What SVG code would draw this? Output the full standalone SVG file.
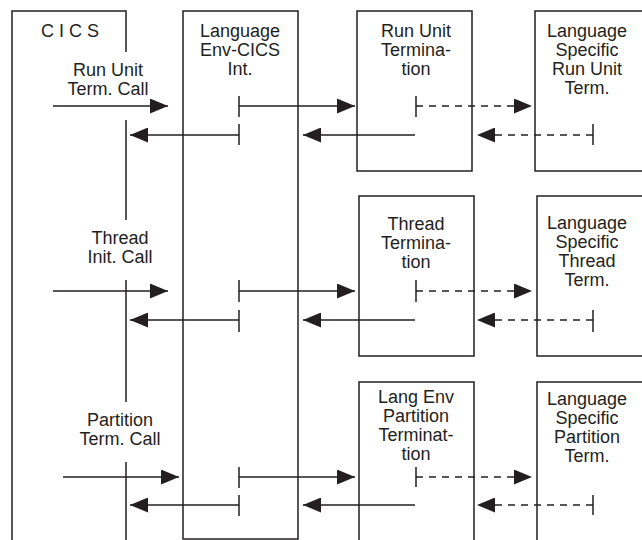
<svg xmlns="http://www.w3.org/2000/svg" width="642" height="540" viewBox="0 0 642 540">
  <style>
    .box { fill: none; stroke: #231f20; stroke-width: 1.5; }
    .ln { fill: none; stroke: #231f20; stroke-width: 1.5; }
    .dash { fill: none; stroke: #231f20; stroke-width: 1.5; stroke-dasharray: 7 6; }
    text { font-family: "Liberation Sans", Arial, Helvetica, sans-serif; font-size: 18px; fill: #231f20; text-anchor: middle; }
  </style>
  <defs>
    <marker id="arrow" markerUnits="userSpaceOnUse" markerWidth="18" markerHeight="15" refX="18" refY="7.5" orient="auto">
      <path d="M0,0 L18,7.5 L0,15 Z" fill="#231f20" stroke="none"/>
    </marker>
  </defs>
  <rect width="642" height="540" fill="#ffffff"/>

  <!-- CICS region: open-bottom frame with a broken right side -->
  <g id="cics">
    <path class="ln" d="M12,540 V11 H126 V52"/>
    <path class="ln" d="M126,120 V220 M126,280 V402 M126,462 V540"/>
    <text x="41" y="37" style="text-anchor:start">C I C S</text>
  </g>

  <g id="lang-env-cics">
    <rect class="box" x="183" y="11" width="115" height="528"/>
    <text x="240" y="37">Language</text>
    <text x="240" y="56">Env-CICS</text>
    <text x="240" y="75">Int.</text>
  </g>

  <g id="run-unit-term">
    <rect class="box" x="357" y="11" width="115" height="160"/>
    <text x="416" y="37">Run Unit</text>
    <text x="416" y="56">Termina-</text>
    <text x="416" y="75">tion</text>
  </g>

  <g id="lang-specific-run-unit">
    <path class="ln" d="M650,11 H535 V171 H650"/>
    <text x="587" y="37">Language</text>
    <text x="587" y="56">Specific</text>
    <text x="587" y="75">Run Unit</text>
    <text x="587" y="94">Term.</text>
  </g>

  <g id="thread-term">
    <rect class="box" x="359" y="196" width="115" height="160"/>
    <text x="416" y="230">Thread</text>
    <text x="416" y="249">Termina-</text>
    <text x="416" y="268">tion</text>
  </g>

  <g id="lang-specific-thread">
    <path class="ln" d="M650,196 H537 V356 H650"/>
    <text x="587" y="229">Language</text>
    <text x="587" y="248">Specific</text>
    <text x="587" y="267">Thread</text>
    <text x="587" y="286">Term.</text>
  </g>

  <g id="partition-term">
    <path class="ln" d="M359,545 V382 H474 V545"/>
    <text x="416" y="403">Lang Env</text>
    <text x="416" y="422">Partition</text>
    <text x="416" y="441">Terminat-</text>
    <text x="416" y="460">tion</text>
  </g>

  <g id="lang-specific-partition">
    <path class="ln" d="M650,382 H537 V545"/>
    <text x="587" y="405">Language</text>
    <text x="587" y="424">Specific</text>
    <text x="587" y="443">Partition</text>
    <text x="587" y="462">Term.</text>
  </g>

  <!-- call labels -->
  <g id="labels">
    <text x="108" y="76">Run Unit</text>
    <text x="108" y="95">Term. Call</text>
    <text x="120" y="244">Thread</text>
    <text x="120" y="263">Init. Call</text>
    <text x="120" y="426">Partition</text>
    <text x="120" y="445">Term. Call</text>
  </g>

  <g id="connectors">
    <!-- run unit termination -->
    <line class="ln" x1="53" y1="106" x2="168" y2="106" marker-end="url(#arrow)"/>
    <path class="ln" d="M239,96 V117"/>
    <line class="ln" x1="239" y1="106" x2="355" y2="106" marker-end="url(#arrow)"/>
    <path class="ln" d="M239,124 V145"/>
    <line class="ln" x1="239" y1="135" x2="130" y2="135" marker-end="url(#arrow)"/>
    <line class="ln" x1="415" y1="135" x2="303" y2="135" marker-end="url(#arrow)"/>
    <path class="ln" d="M416,96 V117"/>
    <line class="dash" x1="416" y1="106" x2="532" y2="106" marker-end="url(#arrow)"/>
    <path class="ln" d="M593,124 V145"/>
    <line class="dash" x1="593" y1="135" x2="477" y2="135" marker-end="url(#arrow)"/>

    <!-- thread -->
    <line class="ln" x1="53" y1="291" x2="168" y2="291" marker-end="url(#arrow)"/>
    <path class="ln" d="M239,280 V302"/>
    <line class="ln" x1="239" y1="291" x2="355" y2="291" marker-end="url(#arrow)"/>
    <path class="ln" d="M239,310 V332"/>
    <line class="ln" x1="239" y1="320" x2="130" y2="320" marker-end="url(#arrow)"/>
    <line class="ln" x1="415" y1="320" x2="303" y2="320" marker-end="url(#arrow)"/>
    <path class="ln" d="M416,280 V302"/>
    <line class="dash" x1="416" y1="291" x2="532" y2="291" marker-end="url(#arrow)"/>
    <path class="ln" d="M593,310 V332"/>
    <line class="dash" x1="593" y1="320" x2="477" y2="320" marker-end="url(#arrow)"/>

    <!-- partition -->
    <line class="ln" x1="63" y1="477" x2="179" y2="477" marker-end="url(#arrow)"/>
    <path class="ln" d="M239,467 V488"/>
    <line class="ln" x1="239" y1="477" x2="355" y2="477" marker-end="url(#arrow)"/>
    <path class="ln" d="M239,495 V516"/>
    <line class="ln" x1="239" y1="505" x2="130" y2="505" marker-end="url(#arrow)"/>
    <line class="ln" x1="415" y1="505" x2="303" y2="505" marker-end="url(#arrow)"/>
    <path class="ln" d="M416,467 V487"/>
    <line class="dash" x1="416" y1="477" x2="532" y2="477" marker-end="url(#arrow)"/>
    <path class="ln" d="M593,495 V515"/>
    <line class="dash" x1="593" y1="505" x2="477" y2="505" marker-end="url(#arrow)"/>
  </g>
</svg>
